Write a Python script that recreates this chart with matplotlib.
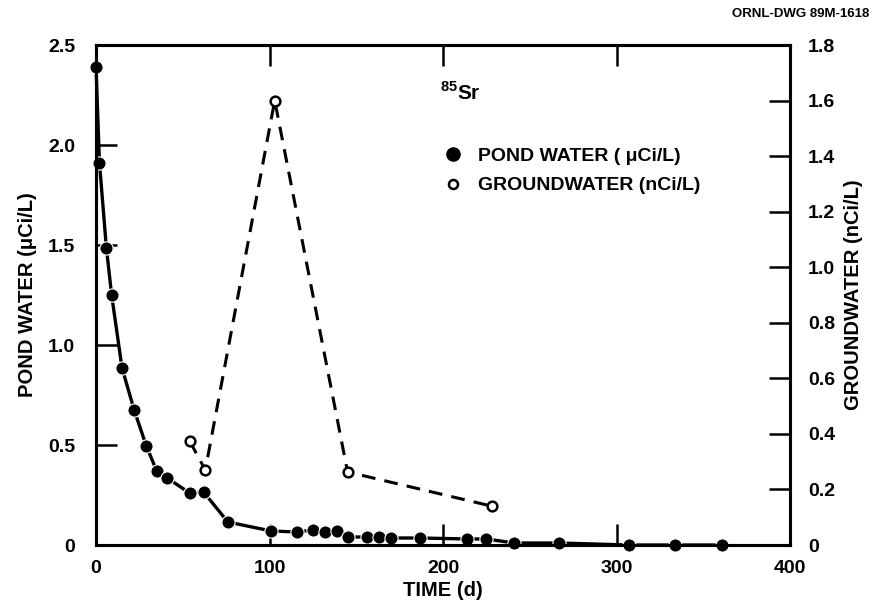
import numpy as np
import matplotlib
matplotlib.use('Agg')
import matplotlib.pyplot as plt
from matplotlib.lines import Line2D

plt.rcParams['font.family'] = ['Liberation Sans', 'DejaVu Sans']
plt.rcParams['font.weight'] = 'bold'
plt.rcParams['axes.labelweight'] = 'bold'

# pond water, 85Sr (uCi/L)
pond_t = [0, 2, 6, 9, 15, 22, 29, 35, 41, 54, 62, 76, 101, 116, 125, 132, 139, 145,
          156, 163, 170, 187, 214, 225, 241, 267, 307, 334, 361]
pond_v = [2.39, 1.91, 1.485, 1.25, 0.885, 0.675, 0.495, 0.37, 0.335, 0.26, 0.265, 0.115,
          0.07, 0.065, 0.075, 0.065, 0.07, 0.04, 0.04, 0.04, 0.035, 0.035, 0.03, 0.03,
          0.01, 0.01, 0.0, 0.0, 0.0]

# groundwater (nCi/L)
gw_t = [54, 63, 103, 145, 228]
gw_v = [0.374, 0.27, 1.60, 0.263, 0.14]

x_ticks = [0, 100, 200, 300, 400]
left_ticks = [0, 0.5, 1.0, 1.5, 2.0, 2.5]
left_labels = ['0', '0.5', '1.0', '1.5', '2.0', '2.5']
right_ticks = [0, 0.2, 0.4, 0.6, 0.8, 1.0, 1.2, 1.4, 1.6, 1.8]
right_labels = ['0', '0.2', '0.4', '0.6', '0.8', '1.0', '1.2', '1.4', '1.6', '1.8']

fig = plt.figure(figsize=(8.74, 6.15), dpi=100)
ax = fig.add_axes([96/874, 1-545/615, 694/874, 500/615])
ax2 = ax.twinx()

ax.plot(pond_t, pond_v, color='black', lw=2.4, marker='o', ms=9.5,
        mfc='black', mec='white', mew=0.8, zorder=3, clip_on=False)
ax2.plot(gw_t, gw_v, color='black', lw=2.2, ls=(0, (4.5, 3)), marker='o', ms=7,
         mfc='white', mec='black', mew=1.8, zorder=3)

ax.set_xlim(0, 400)
ax.set_ylim(0, 2.5)
ax2.set_ylim(0, 1.8)

ax.set_xticks(x_ticks)
ax.set_xticklabels([str(t) for t in x_ticks])
ax.set_yticks(left_ticks)
ax.set_yticklabels(left_labels)
ax2.set_yticks(right_ticks)
ax2.set_yticklabels(right_labels)

ax.tick_params(axis='x', direction='in', length=15, width=1.8, top=True, labelsize=14, pad=11)
ax.tick_params(axis='y', direction='in', length=15, width=1.8, labelsize=14, pad=15)
ax2.tick_params(axis='y', direction='in', length=15, width=1.8, labelsize=14, pad=13)

for a in (ax, ax2):
    for s in a.spines.values():
        s.set_linewidth(2.2)

ax.set_xlabel('TIME (d)', fontsize=14.5, labelpad=3)
ax.set_ylabel('POND WATER (\u03bcCi/L)', fontsize=14.5, labelpad=8)
ax2.set_ylabel('GROUNDWATER (nCi/L)', fontsize=14.5, rotation=90, labelpad=6)

ax.text(0.495, 0.905, r'$^{\mathregular{85}}$Sr', transform=ax.transAxes,
        fontsize=15, ha='left', va='center')

handles = [
    Line2D([], [], ls='none', marker='o', ms=9.5, mfc='black', mec='black'),
    Line2D([], [], ls='none', marker='o', ms=6.5, mfc='white', mec='black', mew=1.8),
]
ax.legend(handles, ['POND WATER ( \u03bcCi/L)', 'GROUNDWATER (nCi/L)'],
          loc='upper left', bbox_to_anchor=(0.478, 0.83), frameon=False,
          fontsize=14, handlelength=0.8, handletextpad=0.9, labelspacing=0.6)

fig.text(0.995, 0.978, 'ORNL-DWG 89M-1618', fontsize=9.5, ha='right', va='center',
         fontweight='bold')

fig.savefig('out.png', dpi=100)
